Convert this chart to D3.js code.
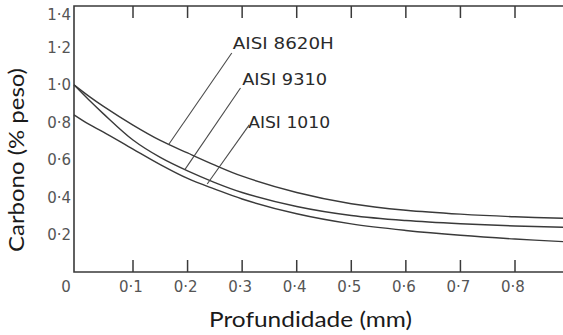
<!DOCTYPE html>
<html>
<head>
<meta charset="utf-8">
<script src="https://cdn.jsdelivr.net/npm/d3@7"></script>
<style>
  html, body { margin: 0; padding: 0; background: #fff; }
  svg { display: block; }
</style>
</head>
<body>
<svg id="chart" width="563" height="335"></svg>
<script>
// Carbon profile versus depth for three carburised steels
const depth      = [0, 0.025, 0.05, 0.1, 0.15, 0.2, 0.25, 0.3, 0.4, 0.5, 0.6, 0.7, 0.8, 0.89];
const aisi8620H  = [1.0, 0.94, 0.885, 0.785, 0.703, 0.636, 0.571, 0.512, 0.425, 0.365, 0.330, 0.309, 0.295, 0.287];
const aisi9310   = [1.0, 0.92, 0.845, 0.705, 0.612, 0.540, 0.478, 0.425, 0.350, 0.302, 0.275, 0.258, 0.246, 0.239];
const aisi1010   = [0.84, 0.79, 0.748, 0.657, 0.574, 0.500, 0.443, 0.390, 0.311, 0.257, 0.222, 0.196, 0.176, 0.162];

const seriesNames = ["AISI 8620H", "AISI 9310", "AISI 1010"];
const xTicks = [0.1, 0.2, 0.3, 0.4, 0.5, 0.6, 0.7, 0.8];
const xTickLabels = ["0·1", "0·2", "0·3", "0·4", "0·5", "0·6", "0·7", "0·8"];
const yTicks = [0.2, 0.4, 0.6, 0.8, 1.0, 1.2, 1.4];
const yTickLabels = ["0·2", "0·4", "0·6", "0·8", "1·0", "1·2", "1·4"];

// Annotation anchors in data units: label text origin, leader start, leader end
const labelAt    = [[0.283, 1.192], [0.300, 0.999], [0.311, 0.770]];
const leaderFrom = [[0.281, 1.170], [0.297, 0.983], [0.313, 0.786]];
const leaderTo   = [[0.165, 0.680], [0.195, 0.547], [0.236, 0.470]];

const svg = d3.select("#chart");
const plotLeft = 74, plotRight = 563, plotTop = 6, plotBottom = 272;
const ink = "#3a3a3a";

// The printed depth axis is slightly stretched before the first tick
const x = d3.scaleLinear().domain([0, 0.1, 0.8]).range([plotLeft, 133, 515]);
const y = d3.scaleLinear().domain([0, 1.4]).range([plotBottom, 10]);

// Frame: top, left and bottom rules
svg.append("path")
  .attr("d", `M${plotRight},${plotTop}H${plotLeft}V${plotBottom}H${plotRight}`)
  .attr("fill", "none").attr("stroke", ink).attr("stroke-width", 1.6);

// Inward ticks on top and bottom
const tickLen = 12;
svg.append("g").selectAll("line").data(xTicks).join("line")
  .attr("x1", d => x(d)).attr("x2", d => x(d))
  .attr("y1", plotBottom).attr("y2", plotBottom - tickLen)
  .attr("stroke", ink).attr("stroke-width", 1.5);
svg.append("g").selectAll("line").data(xTicks).join("line")
  .attr("x1", d => x(d)).attr("x2", d => x(d))
  .attr("y1", plotTop).attr("y2", plotTop + tickLen)
  .attr("stroke", ink).attr("stroke-width", 1.5);

const tickFont = "'DejaVu Sans', sans-serif";
// Depth tick labels
svg.append("g").selectAll("text").data(xTicks).join("text")
  .attr("x", d => x(d) - 2).attr("y", 291.5)
  .attr("text-anchor", "middle")
  .attr("font-family", tickFont).attr("font-size", 15)
  .attr("fill", "#555")
  .text((d, i) => xTickLabels[i]);
svg.append("text")
  .attr("x", x(0) - 8).attr("y", 291.5)
  .attr("text-anchor", "middle")
  .attr("font-family", tickFont).attr("font-size", 15)
  .attr("fill", "#555").text("0");

// Carbon tick labels
svg.append("g").selectAll("text").data(yTicks).join("text")
  .attr("x", 71)
  .attr("y", d => Math.max(y(d), plotTop + 9))
  .attr("dy", "0.36em")
  .attr("text-anchor", "end")
  .attr("font-family", tickFont).attr("font-size", 15)
  .attr("fill", "#555")
  .text((d, i) => yTickLabels[i]);

// Curves
const series = [aisi8620H, aisi9310, aisi1010];
const line = d3.line()
  .x(d => x(d[0])).y(d => y(d[1]))
  .curve(d3.curveCatmullRom.alpha(0.5));
svg.append("g").selectAll("path").data(series).join("path")
  .attr("d", s => line(depth.map((dv, i) => [dv, s[i]])))
  .attr("fill", "none").attr("stroke", ink).attr("stroke-width", 1.4);

// Leaders and labels
const labelWidths = [101, 85, 82];
svg.append("g").selectAll("line").data(seriesNames).join("line")
  .attr("x1", (d, i) => x(leaderFrom[i][0])).attr("y1", (d, i) => y(leaderFrom[i][1]))
  .attr("x2", (d, i) => x(leaderTo[i][0])).attr("y2", (d, i) => y(leaderTo[i][1]))
  .attr("stroke", "#4a4a4a").attr("stroke-width", 1.1);
svg.append("g").selectAll("text").data(seriesNames).join("text")
  .attr("x", (d, i) => x(labelAt[i][0])).attr("y", (d, i) => y(labelAt[i][1]))
  .attr("font-family", tickFont).attr("font-size", 16.5)
  .attr("textLength", (d, i) => labelWidths[i])
  .attr("lengthAdjust", "spacingAndGlyphs")
  .attr("fill", "#2a2a2a")
  .text(d => d);

// Axis titles
const titleFont = "Lato, 'Open Sans', sans-serif";
svg.append("text")
  .attr("x", 310.5).attr("y", 327)
  .attr("text-anchor", "middle")
  .attr("font-family", titleFont).attr("font-size", 21)
  .attr("textLength", 203).attr("lengthAdjust", "spacingAndGlyphs")
  .attr("fill", "#1a1a1a")
  .text("Profundidade (mm)");
svg.append("text")
  .attr("transform", "translate(24,160) rotate(-90)")
  .attr("text-anchor", "middle")
  .attr("font-family", titleFont).attr("font-size", 21)
  .attr("textLength", 184).attr("lengthAdjust", "spacingAndGlyphs")
  .attr("fill", "#1a1a1a")
  .text("Carbono (% peso)");
</script>
</body>
</html>
